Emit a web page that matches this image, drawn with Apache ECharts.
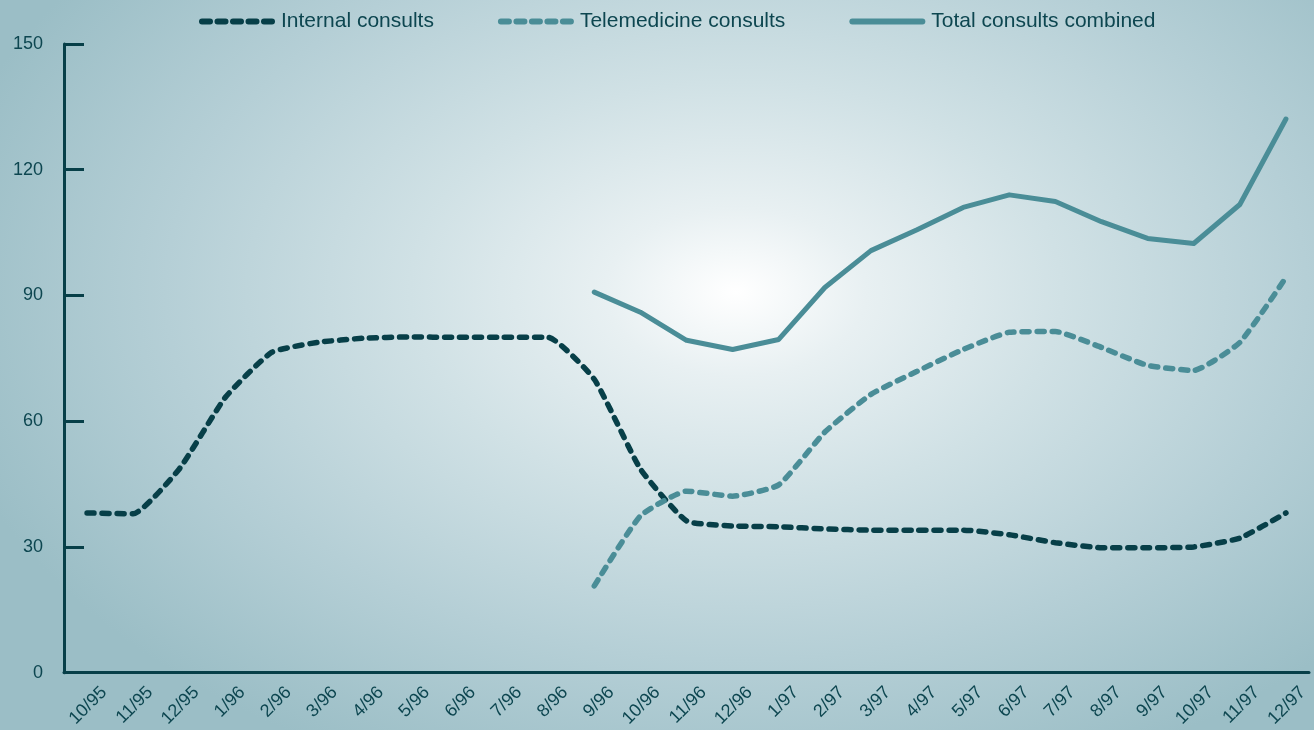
<!DOCTYPE html>
<html>
<head>
<meta charset="utf-8">
<script src="https://cdn.jsdelivr.net/npm/echarts@6/dist/echarts.min.js"></script>
<style>
  html, body { margin: 0; padding: 0; width: 1314px; height: 730px; overflow: hidden; }
  body {
    background:
      radial-gradient(ellipse 62% 72% at 56% 40%, #ffffff 0%, #e8f0f2 16%, #d0e1e5 40%, #b5cfd6 70%, #9bbec6 100%);
  }
  #chart { width: 1314px; height: 730px; }
</style>
</head>
<body>
<div id="chart"></div>
<script>
// Monthly consult counts, October 1995 through December 1997
const months = ['10/95','11/95','12/95','1/96','2/96','3/96','4/96','5/96','6/96','7/96','8/96','9/96',
  '10/96','11/96','12/96','1/97','2/97','3/97','4/97','5/97','6/97','7/97','8/97','9/97','10/97','11/97','12/97'];

const internalConsults = [38.1, 37.9, 48.6, 65.7, 76.4, 78.8, 79.8, 80.1, 80, 80, 80, 70,
  48.6, 36.2, 35, 34.8, 34.3, 34, 34, 34, 32.9, 31, 29.8, 29.8, 30, 32.1, 38.1];

const telemedicineConsults = [null, null, null, null, null, null, null, null, null, null, null, 20.7,
  37.4, 43.3, 42.1, 44.8, 57.4, 66.4, 71.9, 77.1, 81.2, 81.4, 77.6, 73.3, 72.1, 78.8, 94.3];

const totalConsults = [null, null, null, null, null, null, null, null, null, null, null, 90.8,
  86, 79.3, 77.1, 79.5, 91.9, 100.7, 105.7, 111, 114, 112.4, 107.6, 103.6, 102.4, 111.7, 132.1];

const yTicks = { min: 0, max: 150, step: 30 };

const dark = '#073f48';
const teal = '#4a8d97';
const ink = '#0d4650';
const dashPattern = [7, 8];

const chart = echarts.init(document.getElementById('chart'), null, { renderer: 'canvas' });

// Legend swatches: dashed series get pill-shaped dashes, the solid total stays solid
const legendItem = (name, dashed, extraRight) => ({
  name,
  lineStyle: dashed ? { type: [8, 7.5] } : { type: 'solid' },
  textStyle: { padding: [0, extraRight || 0, 0, 4] }
});

chart.setOption({
  backgroundColor: 'transparent',
  animation: false,
  textStyle: { fontFamily: 'Liberation Sans, Arial, sans-serif', color: ink },
  legend: {
    top: 6,
    left: 194,
    itemWidth: 70,
    itemHeight: 12,
    itemGap: 64,
    icon: 'inherit',
    lineStyle: { width: 6, cap: 'round' },
    itemStyle: { opacity: 0, borderWidth: 0 },
    textStyle: { fontSize: 21, color: ink, padding: [0, 0, 0, 4] },
    data: [
      legendItem('Internal consults', true),
      legendItem('Telemedicine consults', true, 14),
      legendItem('Total consults combined', false)
    ]
  },
  grid: { left: 64, right: 5, top: 44, bottom: 56, containLabel: false },
  xAxis: {
    type: 'category',
    data: months,
    boundaryGap: true,
    axisLine: { lineStyle: { color: dark, width: 3 } },
    axisTick: { inside: true, alignWithLabel: true, length: 15, lineStyle: { color: dark, width: 3 } },
    axisLabel: { interval: 0, rotate: 45, fontSize: 18, color: ink, margin: 34, padding: [0, -24, 0, 0] },
    splitLine: { show: false }
  },
  yAxis: {
    type: 'value',
    min: yTicks.min,
    max: yTicks.max,
    interval: yTicks.step,
    axisLine: { show: true, lineStyle: { color: dark, width: 3 } },
    axisTick: { show: true, inside: true, length: 20, lineStyle: { color: dark, width: 3 } },
    axisLabel: { fontSize: 18, color: ink, margin: 21 },
    splitLine: { show: false }
  },
  series: [
    {
      name: 'Internal consults',
      type: 'line',
      data: internalConsults,
      symbol: 'none',
      smooth: 0.15,
      lineStyle: { color: dark, width: 5.5, type: dashPattern, cap: 'round' },
      itemStyle: { color: dark }
    },
    {
      name: 'Telemedicine consults',
      type: 'line',
      data: telemedicineConsults,
      symbol: 'none',
      smooth: 0.15,
      lineStyle: { color: teal, width: 5.5, type: dashPattern, cap: 'round' },
      itemStyle: { color: teal }
    },
    {
      name: 'Total consults combined',
      type: 'line',
      data: totalConsults,
      symbol: 'none',
      smooth: false,
      lineStyle: { color: teal, width: 5, cap: 'round', join: 'round' },
      itemStyle: { color: teal }
    }
  ]
});
</script>
</body>
</html>
